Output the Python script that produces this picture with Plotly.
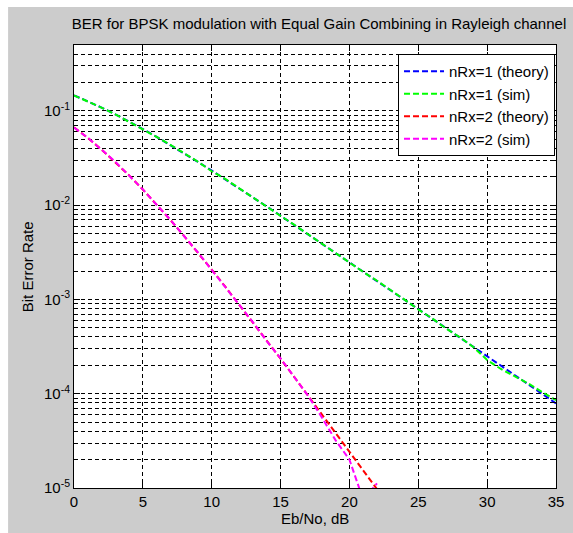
import plotly.graph_objects as go

# ---------------- data ----------------
ebno_db = list(range(0, 36))
ber_nrx1_theory = [0.1464, 0.1267, 0.1085, 0.0919, 0.0771, 0.0642, 0.0530, 0.0435,
                   0.0355, 0.0288, 0.0233, 0.0188, 0.0151, 0.0121, 0.00967, 0.00772,
                   0.00616, 0.00491, 0.00392, 0.00312, 0.00248, 0.00197, 0.00157,
                   0.00125, 0.000992, 0.000789, 0.000627, 0.000498, 0.000396,
                   0.000314, 0.000250, 0.000199, 0.000158, 0.000125, 0.0000995,
                   0.0000790]
ber_nrx1_sim = [0.1461, 0.1270, 0.1083, 0.0921, 0.0770, 0.0643, 0.0529, 0.0436,
                0.0354, 0.0289, 0.0229, 0.0189, 0.0151, 0.0120, 0.00970, 0.00770,
                0.00618, 0.00490, 0.00393, 0.00311, 0.00249, 0.00196, 0.00158,
                0.00124, 0.000995, 0.000785, 0.000630, 0.000494, 0.000398,
                0.000313, 0.000228, 0.000183, 0.000152, 0.000128, 0.000104,
                0.0000855]

ebno_db_2 = list(range(0, 26))
ber_nrx2_theory = [0.0670, 0.0517, 0.0389, 0.0287, 0.0207, 0.01465, 0.01018,
                   0.00697, 0.00470, 0.00314, 0.00207, 0.001356, 0.000881,
                   0.000570, 0.000367, 0.000235, 0.000150, 0.0000957, 0.0000609,
                   0.0000387, 0.0000245, 0.0000155, 0.00000983, 0.00000622,
                   0.00000393, 0.00000248]
ebno_db_2sim = list(range(0, 23))
ber_nrx2_sim = [0.0665, 0.0519, 0.0388, 0.0288, 0.0206, 0.0147, 0.0101, 0.00700,
                0.00468, 0.00315, 0.00206, 0.00136, 0.000878, 0.000572, 0.000362,
                0.000237, 0.000148, 0.0000950, 0.0000560, 0.0000320, 0.0000200,
                0.0000075, 0.0000112]

series_names = ["nRx=1 (theory)", "nRx=1 (sim)", "nRx=2 (theory)", "nRx=2 (sim)"]
series_colors = ["#0000ff", "#00ff00", "#ff0000", "#ff00ff"]

x_ticks = [0, 5, 10, 15, 20, 25, 30, 35]
y_ticks = [1e-5, 1e-4, 1e-3, 1e-2, 1e-1]
y_ticktext = ["10<sup>-5</sup>", "10<sup>-4</sup>", "10<sup>-3</sup>",
              "10<sup>-2</sup>", "10<sup>-1</sup>"]
y_minor = [m * 10.0 ** e for e in range(-5, 0) for m in range(2, 10)]

title_text = "BER for BPSK modulation with Equal Gain Combining in Rayleigh channel"
x_label = "Eb/No, dB"
y_label = "Bit Error Rate"

# ---------------- figure ----------------
FONT = "Liberation Sans, Arial, Helvetica, sans-serif"
W, H = 573, 533
ML, MR, MT, MB = 74, 9, 45, 45
PW, PH = W - ML - MR, H - MT - MB

fig = go.Figure()
xs = [ebno_db, ebno_db, ebno_db_2, ebno_db_2sim]
ys = [ber_nrx1_theory, ber_nrx1_sim, ber_nrx2_theory, ber_nrx2_sim]
for i, (xv, yv) in enumerate(zip(xs, ys)):
    fig.add_trace(go.Scatter(
        x=xv, y=yv, mode="lines", name=series_names[i],
        legendgroup=f"g{i}",
        line=dict(color=series_colors[i], width=2, dash="6px,3px"),
    ))

grid_common = dict(gridcolor="#000000", gridwidth=1, griddash="4px,3px")

fig.update_layout(
    width=W, height=H,
    margin=dict(l=ML, r=MR, t=MT, b=MB, pad=0),
    paper_bgcolor="#cccccc",
    plot_bgcolor="#ffffff",
    font=dict(family=FONT, size=15, color="#000000"),
    title=dict(text=title_text, x=(ML + PW / 2) / W, xanchor="center",
               y=1 - 24 / H, yanchor="middle", yref="container",
               font=dict(size=15, color="#000000")),
    showlegend=True,
    legend=dict(
        x=(563 - ML) / PW, xanchor="right",
        y=(H - MB - 54) / PH, yanchor="top",
        bgcolor="#ffffff", bordercolor="#000000", borderwidth=1,
        font=dict(size=15), traceorder="grouped", tracegroupgap=0,
        itemwidth=40,
    ),
    xaxis=dict(
        range=[0, 35], tickvals=x_ticks, ticks="inside", ticklen=6,
        tickcolor="#000000", showline=True, linecolor="#000000", linewidth=1,
        mirror="allticks", showgrid=True, zeroline=False, **grid_common,
        tickfont=dict(size=15),
    ),
    yaxis=dict(
        type="log", range=[-5, -0.30103], tickvals=y_ticks, ticktext=y_ticktext,
        ticks="inside", ticklen=6, tickcolor="#000000", showline=True,
        linecolor="#000000", linewidth=1, mirror="allticks", showgrid=True,
        zeroline=False, **grid_common, tickfont=dict(size=15),
        minor=dict(tickvals=y_minor, ticks="inside", ticklen=3,
                   tickcolor="#000000", showgrid=True, **grid_common),
    ),
    annotations=[
        dict(text=x_label, xref="paper", yref="paper", x=0.5,
             y=-(518 - (H - MB)) / PH, xanchor="center", yanchor="middle",
             showarrow=False, font=dict(size=15)),
        dict(text=y_label, xref="paper", yref="paper", x=-(ML - 27) / PW,
             y=0.5, xanchor="center", yanchor="middle", textangle=-90,
             showarrow=False, font=dict(size=15)),
    ],
    shapes=[
        # white strip along the top edge of the page
        dict(type="rect", xref="paper", yref="paper", x0=-(ML + 10) / PW,
             x1=(W - ML + 10) / PW, y0=1 + (MT - 7) / PH, y1=1 + (MT + 10) / PH,
             fillcolor="#ffffff", line=dict(width=0), layer="below"),
        # white strip along the left edge of the page
        dict(type="rect", xref="paper", yref="paper", x0=-(ML + 10) / PW,
             x1=-(ML - 7) / PW, y0=-(MB + 10) / PH, y1=1 + (MT + 10) / PH,
             fillcolor="#ffffff", line=dict(width=0), layer="below"),
    ],
)

fig.write_html("out.html")
